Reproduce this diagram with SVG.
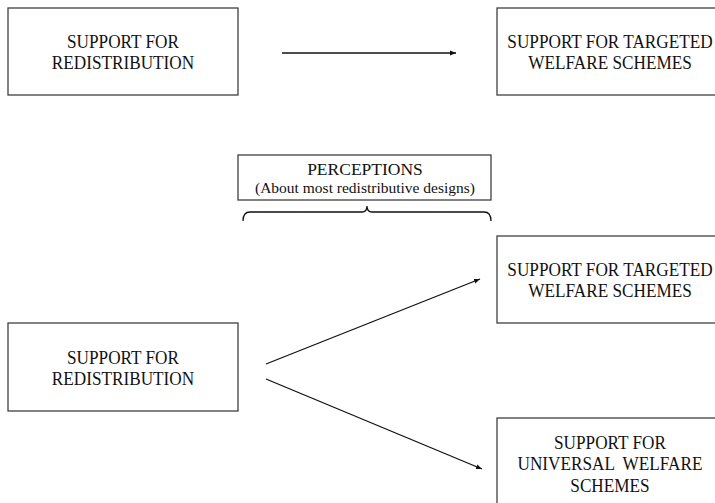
<svg xmlns="http://www.w3.org/2000/svg" width="715" height="503" viewBox="0 0 715 503">
<defs>
<style>
.box{fill:#fff;stroke:#404040;stroke-width:1.3}
.t{font-family:"Liberation Serif","Times New Roman",serif;font-size:18.5px;fill:#111;text-anchor:middle;white-space:pre}
.p{font-size:17.5px}
.s{font-size:15.5px}
.c{fill:none;stroke:#111;stroke-width:1.3}
</style>
<marker id="ah" viewBox="0 0 10 10" refX="10" refY="5" markerWidth="6" markerHeight="6" orient="auto" markerUnits="userSpaceOnUse">
<path d="M0,1 L10,5 L0,9 z" fill="#111"/>
</marker>
</defs>
<rect width="715" height="503" fill="#fff"/>
<g id="n1">
<rect class="box" x="8" y="8" width="230" height="87"/>
<text class="t" transform="translate(123 0) scale(0.93 1)" y="48.5">SUPPORT FOR</text>
<text class="t" transform="translate(123 0) scale(0.93 1)" y="69.5">REDISTRIBUTION</text>
</g>
<g id="n2">
<rect class="box" x="497" y="8" width="230" height="87"/>
<text class="t" transform="translate(610 0) scale(0.93 1)" y="48.5">SUPPORT FOR TARGETED</text>
<text class="t" transform="translate(610 0) scale(0.93 1)" y="69.5">WELFARE SCHEMES</text>
</g>
<g id="n3">
<rect class="box" x="238" y="155" width="253" height="45"/>
<text class="t p" x="365" y="175">PERCEPTIONS</text>
<text class="t s" x="365" y="193">(About most redistributive designs)</text>
<path class="c" d="M243,221 Q243,212 250,212 L362,212 Q367,212 367,206 Q367,212 372,212 L484,212 Q491,212 491,221" stroke-width="1"/>
</g>
<g id="n4">
<rect class="box" x="497" y="236" width="230" height="87"/>
<text class="t" transform="translate(610 0) scale(0.93 1)" y="276">SUPPORT FOR TARGETED</text>
<text class="t" transform="translate(610 0) scale(0.93 1)" y="297.5">WELFARE SCHEMES</text>
</g>
<g id="n5">
<rect class="box" x="8" y="323" width="230" height="88"/>
<text class="t" transform="translate(123 0) scale(0.93 1)" y="364">SUPPORT FOR</text>
<text class="t" transform="translate(123 0) scale(0.93 1)" y="385.5">REDISTRIBUTION</text>
</g>
<g id="n6">
<rect class="box" x="497" y="418" width="230" height="95"/>
<text class="t" transform="translate(610 0) scale(0.93 1)" y="449.5">SUPPORT FOR</text>
<text class="t" transform="translate(610 0) scale(0.93 1)" y="470.5">UNIVERSAL  WELFARE</text>
<text class="t" transform="translate(610 0) scale(0.93 1)" y="491.5">SCHEMES</text>
</g>
<g id="connectors">
<line class="c" x1="282" y1="53" x2="456" y2="53" marker-end="url(#ah)"/>
<line class="c" x1="266" y1="364" x2="480" y2="279" marker-end="url(#ah)"/>
<line class="c" x1="266" y1="379" x2="482" y2="469" marker-end="url(#ah)"/>
</g>
</svg>
